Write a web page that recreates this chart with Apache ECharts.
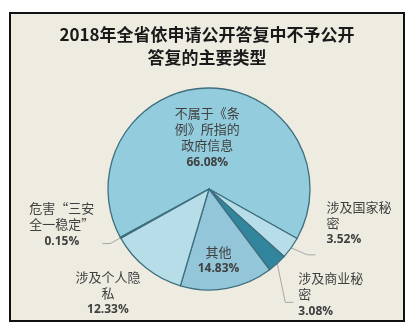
<!DOCTYPE html>
<html><head><meta charset="utf-8">
<script src="https://cdn.jsdelivr.net/npm/echarts@6/dist/echarts.min.js"></script>
<style>html,body{margin:0;padding:0;background:#fff;}#c{width:414px;height:330px;}</style>
</head><body><div id="c"></div>
<script>
const titleText = '2018年全省依申请公开答复中不予公开\n答复的主要类型';
const categories = ['不属于《条例》所指的政府信息', '涉及国家秘密', '涉及商业秘密', '其他', '涉及个人隐私', '危害“三安全一稳定”'];
const percents = [66.08, 3.52, 3.08, 14.83, 12.33, 0.15];
const palette = ['#93CDDD', '#B7DEE8', '#31859C', '#92C6D8', '#B7DEE8', '#93CDDD'];

// label nudges (dx, dy) relative to ECharts' own label placement
const labelShift = [[-2, 3], [6, -31], [0, -7], [0, 19], [15, 3], [-3, -18]];

function wrap(s, n) {
  const a = Array.from(s), out = [];
  for (let i = 0; i < a.length; i += n) out.push(a.slice(i, i + n).join(''));
  return out.join('\n');
}
const insideIdx = [0, 3];
const leftIdx = [1, 2];
const data = categories.map((c, i) => {
  const d = { name: c, value: percents[i], itemStyle: { color: palette[i] } };
  if (insideIdx.includes(i)) d.label = { position: 'inside' };
  if (leftIdx.includes(i)) d.label = { rich: { n: { align: 'left' }, p: { align: 'left' } } };
  if (i === 4) d.labelLine = { show: false };
  return d;
});
const chart = echarts.init(document.getElementById('c'));
chart.setOption({
  animation: false,
  graphic: [{ type: 'rect', z: -10, shape: { x: 10, y: 13, width: 394, height: 308 },
    style: { fill: '#EEECE1', stroke: '#111', lineWidth: 2 } }],
  title: { text: titleText, left: 'center', top: 18,
    textStyle: { fontFamily: 'Noto Sans CJK SC', fontSize: 17, fontWeight: 'bold', color: '#1a1a1a', lineHeight: 23 } },
  series: [{
    type: 'pie', center: [209, 189], radius: 101, startAngle: 208.6, clockwise: true,
    data: data,
    itemStyle: { borderColor: '#3F6F7F', borderWidth: 1.3 },
    label: {
      show: true, position: 'outside', color: '#404040', fontFamily: 'Noto Sans CJK SC',
      formatter: p => '{n|' + wrap(p.name, 5).split('\n').join('}\n{n|') + '}\n{p|' + p.value.toFixed(2) + '%}',
      rich: {
        n: { fontSize: 13, lineHeight: 16, color: '#404040', fontFamily: 'Noto Sans CJK SC', align: 'center' },
        p: { fontSize: 12, lineHeight: 18, color: '#404040', fontWeight: 'bold', fontFamily: 'Open Sans', align: 'center' }
      }
    },
    labelLayout: p => ({ dx: labelShift[p.dataIndex][0], dy: labelShift[p.dataIndex][1] }),
    labelLine: { show: true, length: 12, length2: 8, lineStyle: { color: '#A6A6A6', width: 1 } }
  }]
});
</script></body></html>
